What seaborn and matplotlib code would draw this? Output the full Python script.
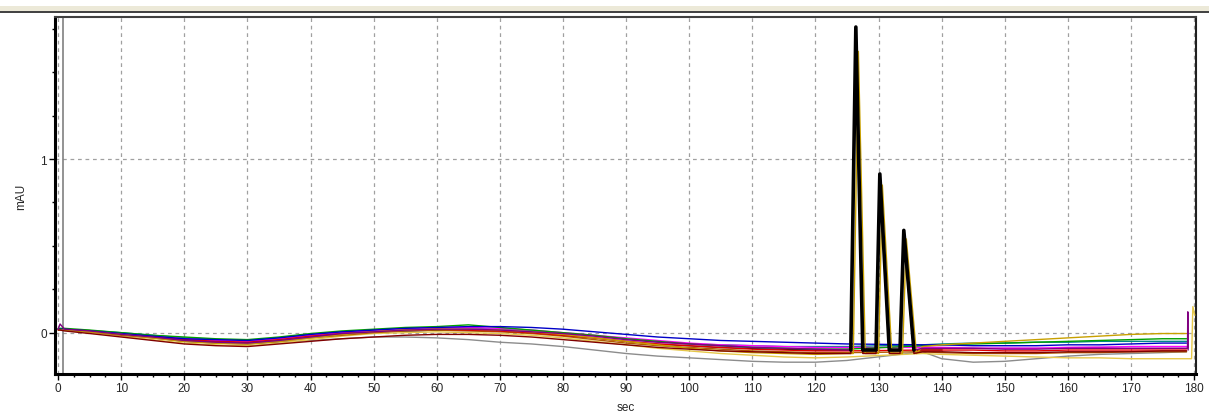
import numpy as np
import pandas as pd
import matplotlib
matplotlib.use('Agg')
import matplotlib.pyplot as plt
from matplotlib.patches import Rectangle
from matplotlib.lines import Line2D
from matplotlib.ticker import MultipleLocator
import seaborn as sns

#%% Data read off the overlay (sec, mAU)
base_sec = [0, 0.3, 1, 5, 10, 15, 20, 25, 30, 35, 40, 45, 50, 55, 60, 65, 70,
            75, 80, 85, 90, 95, 100, 105, 110, 115, 120, 125]
post_sec = [137, 140, 145, 150, 155, 160, 165, 170, 175, 178.8]
peak_sec = [125.6, 126.4, 127.5, 129.6, 130.2, 131.7, 133.4, 134.0, 135.6]
peak_sec_late = [126.0, 126.8, 127.9, 130.0, 130.6, 132.1, 133.8, 134.4, 136.0]

colors = {
    'blue': '#0000c8', 'green': '#00a000', 'gold': '#c8a000', 'yellow': '#e6c84a',
    'gray': '#8c8c8c', 'purple': '#800080', 'magenta': '#ff00ff', 'red': '#e00000',
    'darkred': '#800000', 'pink': '#e090e0', 'teal': '#008888', 'brown': '#b05a00',
    'black': '#000000',
}

pre = {
    'blue':    [0.02, 0.02, 0.02, 0.01, -0.005, -0.02, -0.035, -0.04, -0.045, -0.03, -0.01, 0.005, 0.015, 0.025,
                0.03, 0.035, 0.035, 0.03, 0.02, 0.005, -0.01, -0.025, -0.035, -0.045, -0.05, -0.055, -0.06, -0.065],
    'green':   [0.025, 0.025, 0.025, 0.015, 0.0, -0.015, -0.025, -0.035, -0.04, -0.025, -0.005, 0.01, 0.02, 0.03,
                0.035, 0.045, 0.03, 0.015, 0.0, -0.015, -0.035, -0.05, -0.065, -0.075, -0.085, -0.09, -0.095, -0.095],
    'gold':    [0.015, 0.015, 0.015, 0.005, -0.01, -0.03, -0.05, -0.06, -0.065, -0.05, -0.03, -0.01, 0.005, 0.015,
                0.02, 0.02, 0.015, 0.005, -0.01, -0.03, -0.05, -0.07, -0.09, -0.105, -0.115, -0.12, -0.125, -0.12],
    'yellow':  [0.02, 0.02, 0.015, 0.0, -0.02, -0.04, -0.06, -0.07, -0.075, -0.06, -0.04, -0.02, -0.005, 0.0,
                0.005, 0.0, -0.005, -0.015, -0.03, -0.05, -0.07, -0.09, -0.105, -0.12, -0.13, -0.14, -0.145, -0.14],
    'gray':    [0.02, 0.02, 0.015, 0.005, -0.01, -0.03, -0.05, -0.06, -0.065, -0.055, -0.045, -0.035, -0.025, -0.025,
                -0.03, -0.04, -0.055, -0.065, -0.08, -0.1, -0.12, -0.135, -0.145, -0.155, -0.165, -0.17, -0.17, -0.16],
    'purple':  [0.02, 0.05, 0.02, 0.01, -0.01, -0.025, -0.045, -0.055, -0.06, -0.045, -0.025, -0.005, 0.005, 0.015,
                0.02, 0.02, 0.015, 0.005, -0.005, -0.02, -0.04, -0.055, -0.065, -0.075, -0.085, -0.09, -0.095, -0.1],
    'magenta': [0.02, 0.02, 0.02, 0.012, -0.005, -0.02, -0.035, -0.045, -0.05, -0.035, -0.015, 0.0, 0.015, 0.025,
                0.03, 0.03, 0.025, 0.015, 0.0, -0.015, -0.03, -0.045, -0.06, -0.07, -0.075, -0.08, -0.085, -0.085],
    'red':     [0.02, 0.02, 0.02, 0.01, -0.01, -0.025, -0.04, -0.05, -0.055, -0.04, -0.02, -0.005, 0.005, 0.015,
                0.02, 0.015, 0.01, 0.0, -0.015, -0.03, -0.05, -0.065, -0.075, -0.085, -0.095, -0.1, -0.105, -0.105],
    'darkred': [0.015, 0.015, 0.01, -0.005, -0.025, -0.045, -0.065, -0.075, -0.08, -0.065, -0.05, -0.035, -0.025, -0.015,
                -0.01, -0.01, -0.015, -0.025, -0.04, -0.055, -0.07, -0.085, -0.095, -0.105, -0.11, -0.115, -0.12, -0.12],
    'pink':    [0.02, 0.02, 0.02, 0.01, -0.005, -0.02, -0.035, -0.045, -0.05, -0.04, -0.02, -0.005, 0.01, 0.02,
                0.025, 0.02, 0.015, 0.005, -0.01, -0.025, -0.045, -0.06, -0.07, -0.08, -0.085, -0.09, -0.09, -0.09],
    'teal':    [0.02, 0.02, 0.02, 0.012, 0.0, -0.015, -0.03, -0.04, -0.045, -0.03, -0.01, 0.005, 0.015, 0.02,
                0.025, 0.025, 0.02, 0.01, -0.005, -0.02, -0.04, -0.055, -0.065, -0.07, -0.075, -0.08, -0.08, -0.08],
    'brown':   [0.02, 0.02, 0.015, 0.005, -0.015, -0.03, -0.05, -0.06, -0.065, -0.05, -0.03, -0.015, 0.0, 0.01,
                0.015, 0.01, 0.005, -0.005, -0.02, -0.04, -0.06, -0.075, -0.085, -0.095, -0.105, -0.11, -0.115, -0.115],
    'black':   [0.02, 0.02, 0.02, 0.01, -0.01, -0.025, -0.04, -0.05, -0.055, -0.04, -0.02, -0.005, 0.005, 0.01,
                0.015, 0.015, 0.01, 0.0, -0.015, -0.03, -0.05, -0.065, -0.075, -0.085, -0.09, -0.095, -0.1, -0.1],
}

post = {
    'blue':    [-0.07, -0.07, -0.075, -0.075, -0.075, -0.07, -0.07, -0.065, -0.06, -0.06],
    'green':   [-0.075, -0.07, -0.065, -0.06, -0.055, -0.05, -0.045, -0.04, -0.035, -0.035],
    'gold':    [-0.08, -0.07, -0.06, -0.05, -0.04, -0.03, -0.02, -0.01, -0.005, -0.005],
    'yellow':  [-0.12, -0.125, -0.13, -0.135, -0.14, -0.145, -0.145, -0.15, -0.15, -0.15],
    'gray':    [-0.11, -0.15, -0.17, -0.165, -0.15, -0.135, -0.125, -0.12, -0.115, -0.11],
    'purple':  [-0.09, -0.09, -0.09, -0.095, -0.095, -0.09, -0.09, -0.09, -0.09, -0.09],
    'magenta': [-0.085, -0.085, -0.09, -0.09, -0.09, -0.085, -0.085, -0.08, -0.08, -0.08],
    'red':     [-0.1, -0.1, -0.1, -0.105, -0.105, -0.1, -0.1, -0.1, -0.1, -0.1],
    'darkred': [-0.11, -0.11, -0.115, -0.115, -0.115, -0.11, -0.11, -0.11, -0.105, -0.105],
    'pink':    [-0.08, -0.085, -0.085, -0.085, -0.085, -0.085, -0.08, -0.08, -0.08, -0.08],
    'teal':    [-0.07, -0.065, -0.06, -0.06, -0.055, -0.055, -0.05, -0.05, -0.05, -0.05],
    'brown':   [-0.11, -0.115, -0.12, -0.12, -0.12, -0.115, -0.115, -0.11, -0.11, -0.11],
    'black':   [-0.1, -0.1],
}

# peak curves (9 points: foot, apex, foot for each of the three peaks)
peaks = {
    'black':   (peak_sec, [-0.1, 1.76, -0.1, -0.1, 0.914, -0.1, -0.1, 0.589, -0.1]),
    'purple':  (peak_sec, [-0.1, 1.70, -0.1, -0.1, 0.89, -0.1, -0.1, 0.57, -0.1]),
    'darkred': (peak_sec, [-0.12, 1.66, -0.12, -0.12, 0.87, -0.12, -0.12, 0.55, -0.12]),
    'gold':    (peak_sec_late, [-0.12, 1.62, -0.12, -0.12, 0.85, -0.12, -0.12, 0.54, -0.12]),
}

# end-of-run spikes
tails = {
    'purple': ([178.95, 179.0, 179.05], [-0.09, 0.12, -0.1]),
    'yellow': ([179.6, 179.8, 180.1], [-0.15, 0.15, 0.1]),
}

draw_order = ['gray', 'yellow', 'black', 'brown', 'teal', 'pink', 'magenta', 'red', 'green',
              'blue', 'gold', 'darkred', 'purple']

#%% Build long table
rows = []
for name in draw_order:
    xs = list(base_sec)
    ys = list(pre[name])
    parts = ['base'] * len(xs)
    if name in peaks:
        xs += peaks[name][0]
        ys += peaks[name][1]
        parts += ['peak'] * len(peaks[name][0])
    xs += post_sec[:len(post[name])]
    ys += post[name]
    parts += ['base'] * len(post[name])
    if name in tails:
        xs += tails[name][0]
        ys += tails[name][1]
        parts += ['base'] * len(tails[name][0])
    for x, y, p in zip(xs, ys, parts):
        rows.append({'trace': name, 'sec': x, 'mAU': y, 'part': p})
df = pd.DataFrame(rows)

#%% Plot
sns.set_style('white')
plt.rcParams['font.family'] = ['Liberation Sans', 'DejaVu Sans']
plt.rcParams['font.size'] = 8.5

fig = plt.figure(figsize=(12.09, 4.14), dpi=100)
ax = fig.add_axes([55 / 1209, 1 - 375 / 414, (1196 - 55) / 1209, (375 - 18.3) / 414])

for z, name in enumerate(draw_order):
    sub = df[df['trace'] == name]
    sns.lineplot(data=sub, x='sec', y='mAU', ax=ax, color=colors[name], lw=1.0,
                 sort=False, estimator=None, zorder=3 + z)

# the black run's peaks sit on top, drawn heavy
pk = df[(df['trace'] == 'black') & (df['part'] == 'peak')]
sns.lineplot(data=pk, x='sec', y='mAU', ax=ax, color='black', lw=2.6,
             sort=False, estimator=None, zorder=30)

ax.set_xlim(-0.5, 180.3)
ax.set_ylim(-0.238, 1.816)
ax.xaxis.set_major_locator(MultipleLocator(10))
ax.xaxis.set_minor_locator(MultipleLocator(2.5))
ax.yaxis.set_major_locator(MultipleLocator(1))
ax.yaxis.set_minor_locator(MultipleLocator(0.25))
ax.grid(True, which='major', color='#a0a0a0', ls=(0, (3, 3)), lw=0.9)
ax.axvline(0.8, color='#808080', lw=1.2, zorder=2)
ax.tick_params(which='major', direction='out', length=4, width=1, color='black', pad=2)
ax.tick_params(which='minor', direction='out', length=2.5, width=1, color='black')
ax.tick_params(axis='x', bottom=True, which='both')
ax.tick_params(axis='y', left=True, which='both')
ax.set_xlabel('sec', labelpad=5)
ax.set_ylabel('mAU')
ax.yaxis.set_label_coords(-0.024, 0.5)

for side in ['left', 'bottom']:
    ax.spines[side].set_linewidth(2.2)
    ax.spines[side].set_color('black')
ax.spines['top'].set_linewidth(1.5)
ax.spines['top'].set_color('#404040')
ax.spines['right'].set_linewidth(1.5)
ax.spines['right'].set_color('#202020')

# window chrome strip above the plot
fig.patches.append(Rectangle((0, 1 - 11.7 / 414), 1, 4.7 / 414, transform=fig.transFigure,
                             facecolor='#ece9d8', edgecolor='none'))
fig.lines.append(Line2D([0, 1], [1 - 12.5 / 414] * 2, transform=fig.transFigure,
                        color='#303030', lw=1.3))

fig.savefig('out.png', dpi=100)
